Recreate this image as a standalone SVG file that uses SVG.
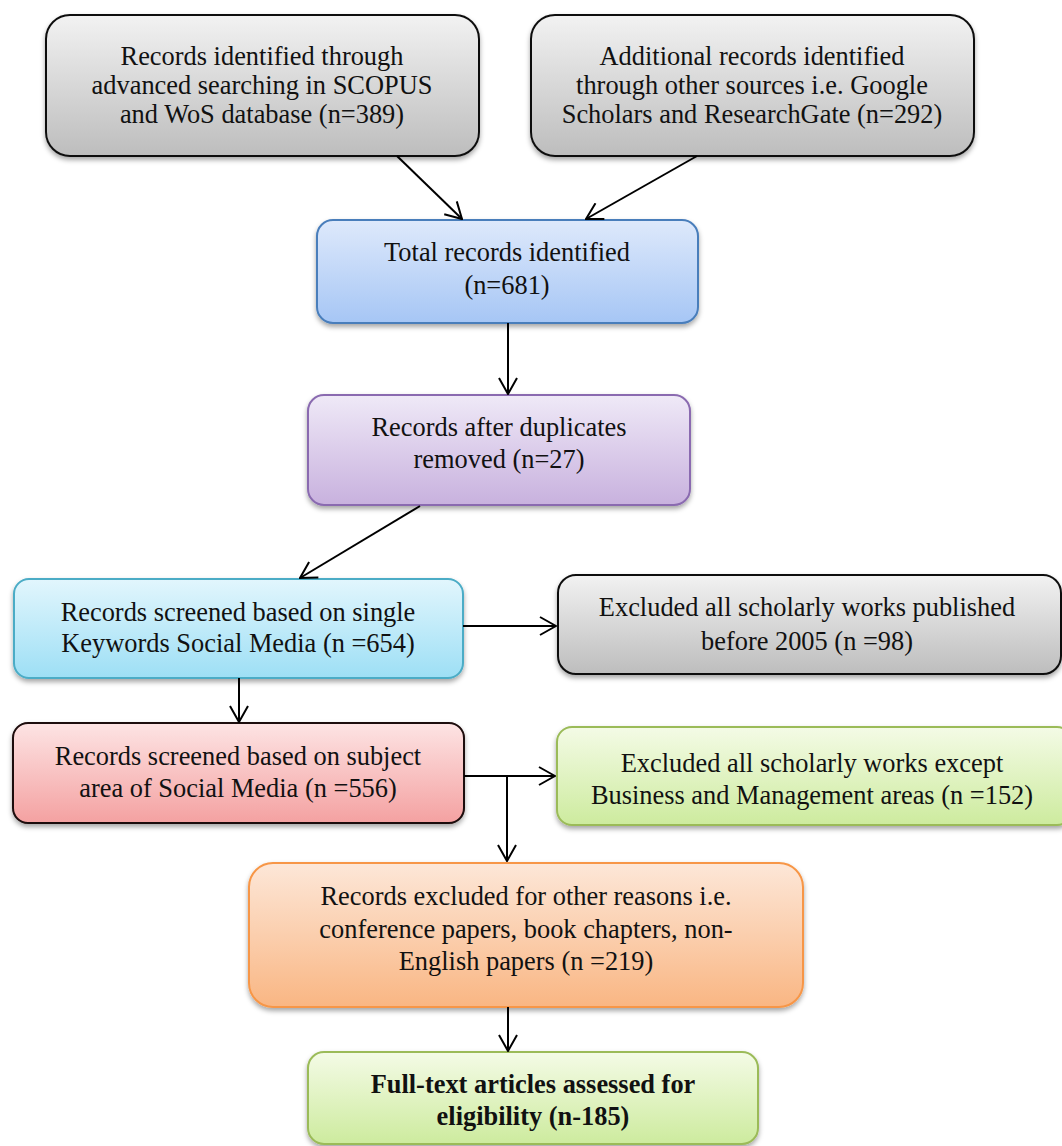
<svg xmlns="http://www.w3.org/2000/svg" width="1062" height="1146" viewBox="0 0 1062 1146">
<defs>
<linearGradient id="gGray" x1="0" y1="0" x2="0" y2="1"><stop offset="0" stop-color="#f2f2f2"/><stop offset="1" stop-color="#bdbdbd"/></linearGradient>
<linearGradient id="gBlue" x1="0" y1="0" x2="0" y2="1"><stop offset="0" stop-color="#dee9fb"/><stop offset="1" stop-color="#a6c6f5"/></linearGradient>
<linearGradient id="gPurple" x1="0" y1="0" x2="0" y2="1"><stop offset="0" stop-color="#efe9f7"/><stop offset="1" stop-color="#c8b1de"/></linearGradient>
<linearGradient id="gCyan" x1="0" y1="0" x2="0" y2="1"><stop offset="0" stop-color="#e2f6fd"/><stop offset="1" stop-color="#9ddff5"/></linearGradient>
<linearGradient id="gRed" x1="0" y1="0" x2="0" y2="1"><stop offset="0" stop-color="#fde4e4"/><stop offset="1" stop-color="#f4a1a1"/></linearGradient>
<linearGradient id="gOrange" x1="0" y1="0" x2="0" y2="1"><stop offset="0" stop-color="#fde7d8"/><stop offset="1" stop-color="#f9b683"/></linearGradient>
<linearGradient id="gGreen" x1="0" y1="0" x2="0" y2="1"><stop offset="0" stop-color="#f4fbe6"/><stop offset="1" stop-color="#cdeb9e"/></linearGradient>
<filter id="sh" x="-5%" y="-10%" width="110%" height="130%"><feDropShadow dx="0" dy="3" stdDeviation="2.5" flood-color="#000" flood-opacity="0.35"/></filter>
<marker id="arr" markerUnits="userSpaceOnUse" viewBox="0 0 18 20" refX="17" refY="10" markerWidth="18" markerHeight="20" orient="auto"><path d="M1,1 L17,10 L1,19" fill="none" stroke="#000" stroke-width="2"/></marker>
</defs>
<style>
.t{font-family:"Liberation Serif","Times New Roman",serif;font-size:26.4px;fill:#111;text-anchor:middle}
.b{font-weight:bold}
.box{stroke-width:2;filter:url(#sh)}
.c{stroke:#000;stroke-width:2;fill:none}
</style>
<rect width="1062" height="1146" fill="#fff"/>
<g id="n1"><rect class="box" x="46" y="15" width="433" height="141" rx="24" fill="url(#gGray)" stroke="#111"/>
<text class="t" x="262" y="65">Records identified through</text><text class="t" x="262" y="94">advanced searching in SCOPUS</text><text class="t" x="262" y="123">and WoS database (n=389)</text></g>
<g id="n2"><rect class="box" x="531" y="15" width="443" height="141" rx="24" fill="url(#gGray)" stroke="#111"/>
<text class="t" x="752" y="65">Additional records identified</text><text class="t" x="752" y="94">through other sources i.e. Google</text><text class="t" x="752" y="123">Scholars and ResearchGate (n=292)</text></g>
<g id="n3"><rect class="box" x="317" y="220" width="381" height="103" rx="16" fill="url(#gBlue)" stroke="#4a7ebb"/>
<text class="t" x="507" y="261">Total records identified</text><text class="t" x="507" y="294">(n=681)</text></g>
<g id="n4"><rect class="box" x="308" y="395" width="382" height="110" rx="16" fill="url(#gPurple)" stroke="#8a6bb0"/>
<text class="t" x="499" y="436">Records after duplicates</text><text class="t" x="499" y="468">removed (n=27)</text></g>
<g id="n5"><rect class="box" x="14" y="579" width="449" height="99" rx="15" fill="url(#gCyan)" stroke="#4bacc6"/>
<text class="t" x="238" y="621">Records screened based on single</text><text class="t" x="238" y="652">Keywords Social Media (n =654)</text></g>
<g id="n6"><rect class="box" x="558" y="575" width="503" height="99" rx="18" fill="url(#gGray)" stroke="#111"/>
<text class="t" x="807" y="616">Excluded all scholarly works published</text><text class="t" x="807" y="650">before 2005 (n =98)</text></g>
<g id="n7"><rect class="box" x="13" y="723" width="451" height="100" rx="15" fill="url(#gRed)" stroke="#1a0808"/>
<text class="t" x="238" y="765">Records screened based on subject</text><text class="t" x="238" y="797">area of Social Media (n =556)</text></g>
<g id="n8"><rect class="box" x="557" y="727" width="515" height="98" rx="15" fill="url(#gGreen)" stroke="#9bbb59"/>
<text class="t" x="812" y="772">Excluded all scholarly works except</text><text class="t" x="812" y="804">Business and Management areas (n =152)</text></g>
<g id="n9"><rect class="box" x="249" y="863" width="554" height="144" rx="24" fill="url(#gOrange)" stroke="#f79646"/>
<text class="t" x="526" y="905">Records excluded for other reasons i.e.</text><text class="t" x="526" y="938">conference papers, book chapters, non-</text><text class="t" x="526" y="970">English papers (n =219)</text></g>
<g id="n10"><rect class="box" x="308" y="1052" width="450" height="92" rx="16" fill="url(#gGreen)" stroke="#9bbb59"/>
<text class="t b" x="533" y="1093">Full-text articles assessed for</text><text class="t b" x="533" y="1125">eligibility (n-185)</text></g>
<g id="connectors">
<line class="c" x1="397" y1="156" x2="462" y2="219" marker-end="url(#arr)"/>
<line class="c" x1="697" y1="156" x2="586" y2="219" marker-end="url(#arr)"/>
<line class="c" x1="508" y1="323" x2="508" y2="394" marker-end="url(#arr)"/>
<line class="c" x1="420" y1="506" x2="300" y2="578" marker-end="url(#arr)"/>
<line class="c" x1="463" y1="626" x2="556" y2="626" marker-end="url(#arr)"/>
<line class="c" x1="239" y1="678" x2="239" y2="722" marker-end="url(#arr)"/>
<line class="c" x1="464" y1="776" x2="555" y2="776" marker-end="url(#arr)"/>
<line class="c" x1="507" y1="776" x2="507" y2="861" marker-end="url(#arr)"/>
<line class="c" x1="508" y1="1007" x2="508" y2="1051" marker-end="url(#arr)"/>
</g>
</svg>
